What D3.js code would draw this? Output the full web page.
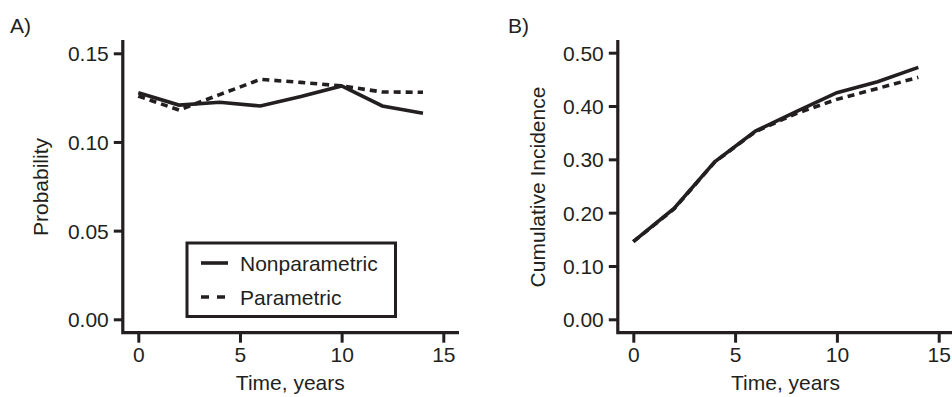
<!DOCTYPE html>
<html>
<head>
<meta charset="utf-8">
<script src="https://cdn.jsdelivr.net/npm/d3@7"></script>
<style>
  html, body { margin: 0; padding: 0; background: #fff; }
  svg { display: block; font-family: "Liberation Sans", Arial, sans-serif; }
</style>
</head>
<body>
<svg id="chart" width="952" height="397"></svg>
<script>
// data
const years = [0, 2, 4, 6, 8, 10, 12, 14];
const probNonpar = [0.1278, 0.1208, 0.1224, 0.1203, 0.1256, 0.1316, 0.1203, 0.1162];
const probPar = [0.1259, 0.1180, 0.1267, 0.1353, 0.1336, 0.1316, 0.1282, 0.1280];
const cumNonpar = [0.1455, 0.2080, 0.2955, 0.3530, 0.3895, 0.4250, 0.4456, 0.4725];
const cumPar = [0.1455, 0.2070, 0.2950, 0.3520, 0.3860, 0.4125, 0.4330, 0.4538];
const xTicks = [0, 5, 10, 15];
const probTicks = [0, 0.05, 0.10, 0.15];
const cumTicks = [0, 0.1, 0.2, 0.3, 0.4, 0.5];
const seriesNames = ['Nonparametric', 'Parametric'];

const INK = '#231f20';
const FS = 21;
const DASH = '7,5';

const svg = d3.select('#chart');

function panel(opts) {
  const g = svg.append('g');
  const x = d3.scaleLinear().domain([0, 15]).range(opts.xRange);
  const y = d3.scaleLinear().domain(opts.yDomain).range([319.3, opts.yTop]);
  const axisY = opts.xRange[0] - 15.5;
  const axisX = 332.7;

  // y ticks
  const ya = g.append('g')
    .attr('transform', `translate(${axisY},0)`)
    .call(d3.axisLeft(y).tickValues(opts.yTicks).tickSize(9).tickPadding(5)
      .tickFormat(d3.format('.2f')));
  ya.select('.domain').remove();
  ya.selectAll('line').attr('stroke', INK).attr('stroke-width', 3);
  ya.selectAll('text').attr('fill', INK).attr('font-size', FS)
    .attr('font-family', '"Liberation Sans", Arial, sans-serif').attr('dy', '0.36em');

  // x ticks
  const xa = g.append('g')
    .attr('transform', `translate(0,${axisX})`)
    .call(d3.axisBottom(x).tickValues(xTicks).tickSize(10).tickPadding(4));
  xa.select('.domain').remove();
  xa.selectAll('line').attr('stroke', INK).attr('stroke-width', 3);
  xa.selectAll('text').attr('fill', INK).attr('font-size', FS)
    .attr('font-family', '"Liberation Sans", Arial, sans-serif');

  // axis lines
  g.append('path')
    .attr('d', `M${axisY},40V${axisX}H${opts.xEnd}`)
    .attr('fill', 'none').attr('stroke', INK).attr('stroke-width', 3.2)
    .attr('stroke-linejoin', 'miter');

  const line = d3.line().x((d, i) => x(years[i])).y(d => y(d));
  g.append('path').datum(opts.par)
    .attr('d', line).attr('fill', 'none').attr('stroke', INK)
    .attr('stroke-width', 3.6).attr('stroke-dasharray', DASH);
  g.append('path').datum(opts.nonpar)
    .attr('d', line).attr('fill', 'none').attr('stroke', INK)
    .attr('stroke-width', 3.6);

  g.append('text').text(opts.letter)
    .attr('x', opts.letterX).attr('y', 33)
    .attr('font-size', FS).attr('fill', INK);

  g.append('text').text('Time, years')
    .attr('x', x(7.5) - 0.5).attr('y', 390)
    .attr('text-anchor', 'middle').attr('font-size', FS).attr('fill', INK);

  g.append('text').text(opts.yTitle)
    .attr('transform', `translate(${opts.yTitleX},187) rotate(-90)`)
    .attr('text-anchor', 'middle').attr('font-size', FS).attr('fill', INK);

  return g;
}

const gA = panel({
  xRange: [138.3, 443.3], xEnd: 459, yDomain: [0, 0.15], yTop: 53.3,
  yTicks: probTicks, nonpar: probNonpar, par: probPar,
  letter: 'A)', letterX: 10, yTitle: 'Probability', yTitleX: 48
});

panel({
  xRange: [633.3, 938.7], xEnd: 952, yDomain: [0, 0.5], yTop: 52.7,
  yTicks: cumTicks, nonpar: cumNonpar, par: cumPar,
  letter: 'B)', letterX: 508, yTitle: 'Cumulative Incidence', yTitleX: 545
});

// legend in panel A
const leg = gA.append('g');
leg.append('rect')
  .attr('x', 187).attr('y', 243).attr('width', 208.5).attr('height', 73.5)
  .attr('fill', '#fff').attr('stroke', INK).attr('stroke-width', 3);
seriesNames.forEach((name, i) => {
  const yy = 263 + i * 34;
  leg.append('line')
    .attr('x1', 201).attr('x2', 228).attr('y1', yy).attr('y2', yy)
    .attr('stroke', INK).attr('stroke-width', 3.6)
    .attr('stroke-dasharray', i === 0 ? null : '8,8');
  leg.append('text').text(name)
    .attr('x', 240).attr('y', yy + 7.5)
    .attr('font-size', FS).attr('fill', INK);
});
</script>
</body>
</html>
